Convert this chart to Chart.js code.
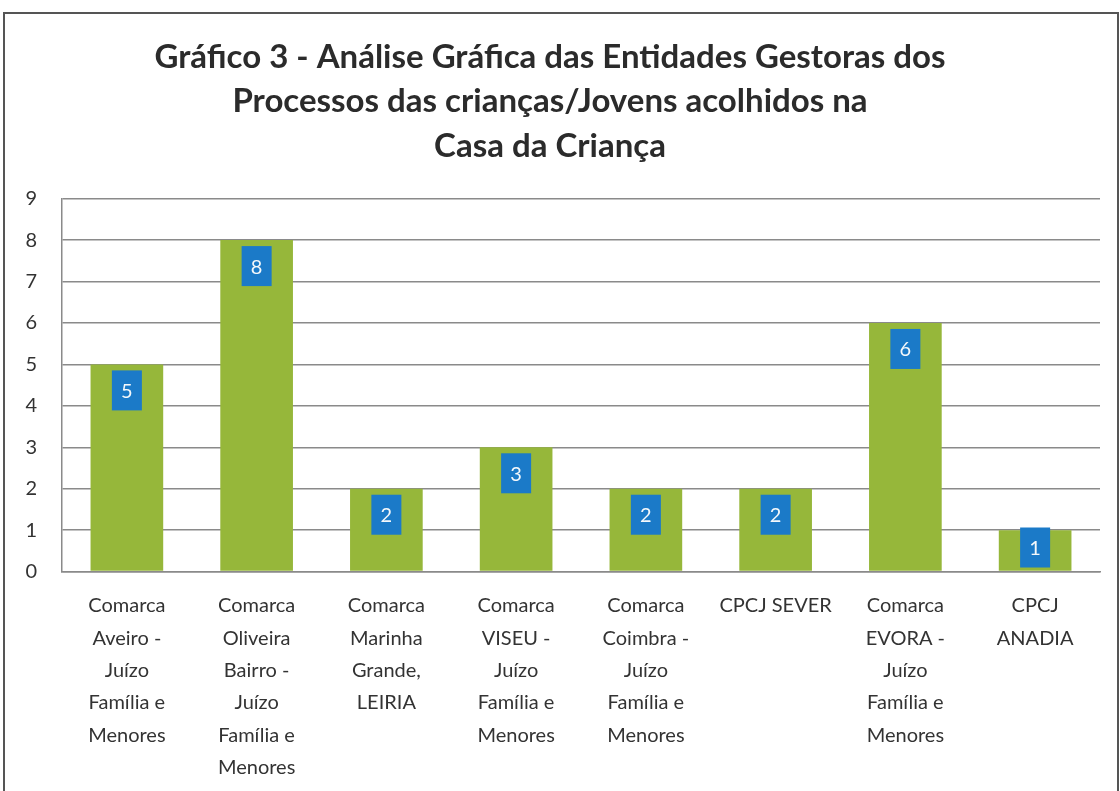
<!DOCTYPE html>
<html>
<head>
<meta charset="utf-8">
<script src="https://cdn.jsdelivr.net/npm/chart.js@4.4.1/dist/chart.umd.min.js"></script>
<style>
    body { margin: 0; background: #fff; }
    #wrap { position: relative; width: 1120px; height: 791px; }
    #moldura {
        position: absolute; left: 3px; top: 12px; width: 1112px; height: 790px;
        border: 2px solid #555; border-bottom: none; pointer-events: none;
    }
</style>
</head>
<body>
<div id="wrap">
    <canvas id="grafico" width="1120" height="791"></canvas>
    <div id="moldura"></div>
</div>
<script>
// Dados do gráfico
const entidades = [
    ["Comarca", "Aveiro -", "Juízo", "Família e", "Menores"],
    ["Comarca", "Oliveira", "Bairro -", "Juízo", "Família e", "Menores"],
    ["Comarca", "Marinha", "Grande,", "LEIRIA"],
    ["Comarca", "VISEU -", "Juízo", "Família e", "Menores"],
    ["Comarca", "Coimbra -", "Juízo", "Família e", "Menores"],
    ["CPCJ SEVER"],
    ["Comarca", "EVORA -", "Juízo", "Família e", "Menores"],
    ["CPCJ", "ANADIA"]
];
const processos = [5, 8, 2, 3, 2, 2, 6, 1];
const tituloLinhas = [
    "Gráfico 3 - Análise Gráfica das Entidades Gestoras dos",
    "Processos das crianças/Jovens acolhidos na",
    "Casa da Criança"
];

const fonte = "Lato, 'Open Sans', sans-serif";

// Etiquetas azuis com o valor de cada barra
const etiquetas = {
    id: "etiquetas",
    afterDatasetsDraw(chart) {
        const ctx = chart.ctx;
        const meta = chart.getDatasetMeta(0);
        ctx.save();
        meta.data.forEach((barra, i) => {
            const cy = Math.min(barra.y + 26, (barra.y + barra.base) / 2 - 3);
            ctx.fillStyle = "#1b7ac8";
            ctx.fillRect(barra.x - 15, cy - 20, 30, 40);
            ctx.fillStyle = "#f4f8fb";
            ctx.font = "20px " + fonte;
            ctx.textAlign = "center";
            ctx.textBaseline = "middle";
            ctx.fillText(String(processos[i]), barra.x, cy + 1);
        });
        ctx.restore();
    }
};

const ctx = document.getElementById("grafico").getContext("2d");
new Chart(ctx, {
    type: "bar",
    data: {
        labels: entidades,
        datasets: [{
            data: processos,
            backgroundColor: "#96b73a",
            borderWidth: 0,
            categoryPercentage: 1,
            barPercentage: 0.56
        }]
    },
    options: {
        responsive: false,
        animation: false,
        layout: { padding: { top: 22, right: 20, bottom: 3, left: 0 } },
        plugins: {
            legend: { display: false },
            tooltip: { enabled: false },
            title: {
                display: true,
                text: tituloLinhas,
                color: "#2b2b2b",
                font: { family: fonte, size: 33, weight: "bold", lineHeight: 1.35 },
                padding: { top: 13, bottom: 30 }
            }
        },
        scales: {
            x: {
                grid: { display: false },
                border: { color: "#8a8a8a", width: 1.5 },
                ticks: {
                    color: "#333",
                    font: { family: fonte, size: 20, lineHeight: 1.62 },
                    maxRotation: 0,
                    autoSkip: false,
                    padding: 10
                },
                afterFit(escala) { escala.height -= 6; }
            },
            y: {
                min: 0,
                max: 9,
                ticks: {
                    stepSize: 1,
                    color: "#333",
                    font: { family: fonte, size: 20 },
                    padding: 25
                },
                grid: { color: "#8a8a8a", lineWidth: 1.5, drawTicks: false },
                border: { color: "#8a8a8a", width: 1.5 },
                afterFit(escala) { escala.width = 62; }
            }
        }
    },
    plugins: [etiquetas]
});
</script>
</body>
</html>
